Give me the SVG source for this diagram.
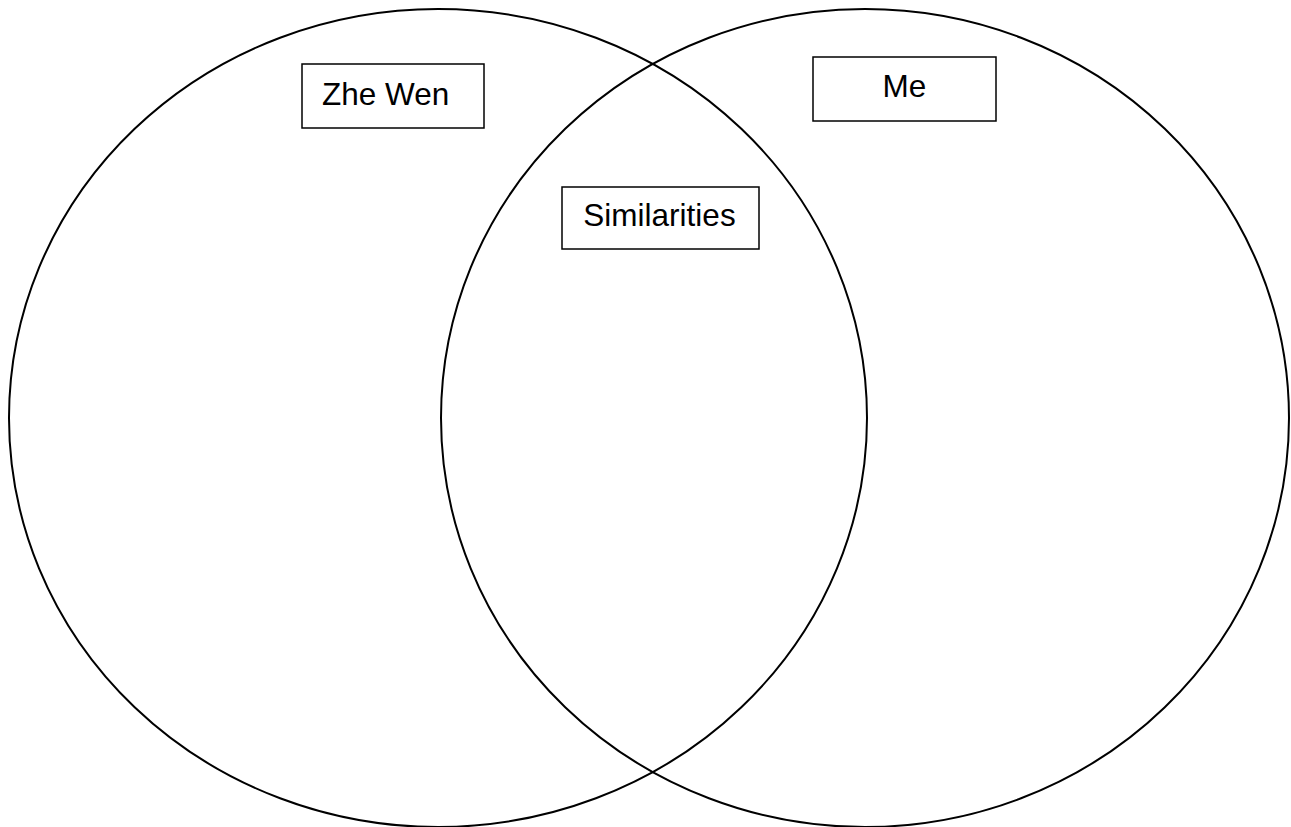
<svg xmlns="http://www.w3.org/2000/svg" width="1291" height="827" viewBox="0 0 1291 827">
<style>
.c{fill:none;stroke:#000;stroke-width:2}
.b{fill:#fff;stroke:#000;stroke-width:1.5}
.t{font-family:"Liberation Sans",Arial,sans-serif;font-size:31.5px;fill:#000}
</style>
<rect width="1291" height="827" fill="#fff"/>
<g id="circles">
<ellipse id="left" class="c" cx="438" cy="418" rx="429" ry="409"/>
<ellipse id="right" class="c" cx="865" cy="418" rx="424" ry="409"/>
</g>
<g id="zhewen"><rect class="b" x="302" y="64" width="182" height="64"/><text class="t" x="322" y="105">Zhe Wen</text></g>
<g id="me"><rect class="b" x="813" y="57" width="183" height="64"/><text class="t" x="904.5" y="97" text-anchor="middle">Me</text></g>
<g id="similarities"><rect class="b" x="562" y="187" width="197" height="62"/><text class="t" x="659.5" y="226" text-anchor="middle">Similarities</text></g>
<g id="connectors"/>
</svg>
